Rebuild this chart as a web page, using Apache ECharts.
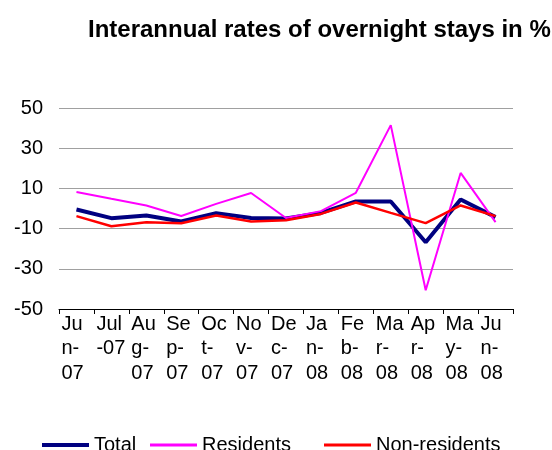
<!DOCTYPE html>
<html>
<head>
<meta charset="utf-8">
<script src="https://cdn.jsdelivr.net/npm/echarts@6/dist/echarts.min.js"></script>
<style>
  html, body { margin: 0; padding: 0; background: #fff; }
  #mybox { width: 552px; height: 450px; }
</style>
</head>
<body>
<div id="mybox"></div>
<script>
// data
var months = ['Jun-07', 'Jul-07', 'Aug-07', 'Sep-07', 'Oct-07', 'Nov-07', 'Dec-07',
              'Jan-08', 'Feb-08', 'Mar-08', 'Apr-08', 'May-08', 'Jun-08'];
var monthLabels = ['Ju\nn-\n07', 'Jul\n-07', 'Au\ng-\n07', 'Se\np-\n07', 'Oc\nt-\n07', 'No\nv-\n07', 'De\nc-\n07',
                   'Ja\nn-\n08', 'Fe\nb-\n08', 'Ma\nr-\n08', 'Ap\nr-\n08', 'Ma\ny-\n08', 'Ju\nn-\n08'];
var total = [-0.5, -4.8, -3.5, -6.5, -2.3, -4.7, -5.0, -2.2, 3.5, 3.5, -16.8, 4.5, -4.3];
var residents = [8.2, 4.8, 1.5, -3.7, 2.3, 7.7, -4.7, -1.3, 7.8, 41.5, -40.7, 17.7, -6.8];
var nonResidents = [-3.8, -8.8, -6.8, -7.3, -3.5, -6.5, -5.8, -2.7, 3.0, -2.2, -7.3, 1.5, -3.8];

var mycharts = echarts.init(document.getElementById('mybox'));

var font = 'Liberation Sans, Arial, sans-serif';

// one legend per item so each can sit where it does in the picture
function legendAt(name, left, h) {
    return {
        data: [name],
        left: left,
        top: 435,
        padding: 0,
        icon: 'rect',
        itemWidth: 47,
        itemHeight: h,
        itemGap: 0,
        textStyle: { fontFamily: font, fontSize: 20, color: '#000' }
    };
}

var optionObj = {
    animation: false,
    title: {
        text: 'Interannual rates of overnight stays in %',
        left: 83,
        top: 13,
        textStyle: { fontFamily: font, fontSize: 24, fontWeight: 'bold', color: '#000' }
    },
    legend: [
        legendAt('Total', 42, 4),
        legendAt('Residents', 150, 3),
        legendAt('Non-residents', 324, 3)
    ],
    grid: { left: 59, right: 39, top: 108, bottom: 141 },
    xAxis: {
        type: 'category',
        data: months,
        boundaryGap: true,
        axisLine: { onZero: false, lineStyle: { color: '#000', width: 1 } },
        axisTick: { show: true, length: 5, lineStyle: { color: '#000' } },
        axisLabel: {
            interval: 0,
            margin: 3,
            align: 'left',
            padding: [0, 0, 0, -15],
            fontFamily: font,
            fontSize: 20,
            lineHeight: 24.5,
            color: '#000',
            formatter: function (v, i) { return monthLabels[i]; }
        }
    },
    yAxis: {
        type: 'value',
        min: -50,
        max: 50,
        interval: 20,
        axisLine: { show: false },
        axisTick: { show: false },
        axisLabel: { margin: 16, fontFamily: font, fontSize: 20, color: '#000' },
        splitLine: { lineStyle: { color: '#a0a0a0', width: 1 } }
    },
    series: [
        {
            name: 'Total', type: 'line', data: total, symbol: 'none',
            itemStyle: { color: '#000080' },
            lineStyle: { color: '#000080', width: 4 }
        },
        {
            name: 'Residents', type: 'line', data: residents, symbol: 'none',
            itemStyle: { color: '#ff00ff' },
            lineStyle: { color: '#ff00ff', width: 2 }
        },
        {
            name: 'Non-residents', type: 'line', data: nonResidents, symbol: 'none',
            itemStyle: { color: '#ff0000' },
            lineStyle: { color: '#ff0000', width: 2.5 }
        }
    ]
};

mycharts.setOption(optionObj);
</script>
</body>
</html>
